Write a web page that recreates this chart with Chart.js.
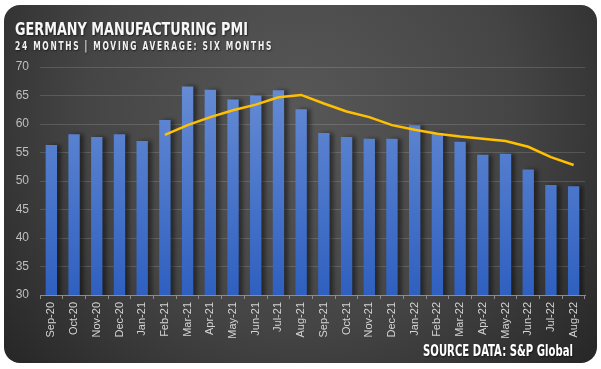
<!DOCTYPE html>
<html><head><meta charset="utf-8">
<script src="https://cdn.jsdelivr.net/npm/chart.js@4/dist/chart.umd.min.js"></script>
<style>
html,body{margin:0;padding:0;background:#fff;}
#wrap{position:relative;width:601px;height:369px;overflow:hidden}
canvas{position:absolute;left:0;top:0}
.t{position:absolute;white-space:nowrap;color:#f2f2f2;font-family:"Liberation Sans Narrow","DejaVu Sans Condensed","Liberation Sans",sans-serif;font-weight:bold;transform-origin:0 0;line-height:1;text-shadow:1px 1px 2px rgba(0,0,0,.6)}
#title{left:15px;top:20px;font-size:18px;color:#f7f7f7}
#sub{left:15px;top:39.5px;font-size:12.5px;letter-spacing:2.5px}
#src{top:344px;font-size:15px;color:#fff}
</style></head>
<body><div id="wrap"><canvas id="c" width="601" height="369"></canvas>
<div class="t" id="title">GERMANY MANUFACTURING PMI</div>
<div class="t" id="sub">24 MONTHS | MOVING AVERAGE: SIX MONTHS</div>
<div class="t" id="src">SOURCE DATA: S&amp;P Global</div>
</div>
<script>
const months = ['Sep-20','Oct-20','Nov-20','Dec-20','Jan-21','Feb-21','Mar-21','Apr-21','May-21','Jun-21','Jul-21','Aug-21','Sep-21','Oct-21','Nov-21','Dec-21','Jan-22','Feb-22','Mar-22','Apr-22','May-22','Jun-22','Jul-22','Aug-22'];
const pmi = [56.3,58.2,57.7,58.2,57.0,60.7,66.6,66.0,64.3,65.0,65.9,62.6,58.4,57.7,57.4,57.4,59.8,58.4,56.9,54.6,54.8,52.0,49.3,49.1];
const movingAvg = [null,null,null,null,null,58.1,59.8,61.2,62.4,63.4,64.7,65.1,63.6,62.2,61.2,59.8,59.0,58.3,57.8,57.4,57.0,56.0,54.2,52.8];
const yMin = 30, yMax = 70, yStep = 5;

function fit(id, target, rightEdge){
  const el = document.getElementById(id);
  const w = el.getBoundingClientRect().width;
  el.style.transform = 'scaleX(' + (target / w) + ')';
  if (rightEdge !== undefined) el.style.left = (rightEdge - target) + 'px';
}
fit('title', 233); fit('sub', 258); fit('src', 150, 573);

const bgPlugin = {
  id: 'bg',
  beforeDraw(chart){
    const ctx = chart.ctx;
    ctx.save();
    ctx.fillStyle = '#fff';
    ctx.fillRect(0,0,chart.width,chart.height);
    const g = ctx.createRadialGradient(300,110,0,300,110,390);
    g.addColorStop(0,'#575757');
    g.addColorStop(0.55,'#454545');
    g.addColorStop(1,'#262626');
    ctx.fillStyle = g;
    ctx.beginPath();
    ctx.roundRect(4,5,593,358,16);
    ctx.fill();
    ctx.restore();
  }
};
const shadowPlugin = {
  id: 'barShadow',
  beforeDatasetDraw(chart, args){
    if (args.meta.type === 'bar'){
      const ctx = chart.ctx;
      ctx.save();
      ctx.shadowColor = 'rgba(0,0,0,0.45)';
      ctx.shadowOffsetX = 4;
      ctx.shadowOffsetY = 0;
      ctx.shadowBlur = 4;
    }
  },
  afterDatasetDraw(chart, args){
    if (args.meta.type === 'bar') chart.ctx.restore();
  }
};

new Chart(document.getElementById('c'), {
  data: {
    labels: months,
    datasets: [
      { type:'line', label:'6-month moving average', data: movingAvg, borderColor:'#FFC000', borderWidth:2.5,
        pointRadius:0, tension:0, order:0, spanGaps:false },
      { type:'bar', label:'PMI', data: pmi, order:1, barPercentage:0.5, categoryPercentage:1,
        backgroundColor(c){
          const a = c.chart.chartArea;
          if (!a) return '#4a78d0';
          const g = c.chart.ctx.createLinearGradient(0,a.top,0,a.bottom);
          g.addColorStop(0,'#6a8fd6');
          g.addColorStop(1,'#2f60c0');
          return g;
        } }
    ]
  },
  options: {
    responsive:false, animation:false, devicePixelRatio:1,
    layout:{ padding:{ left:10, right:16, top:67, bottom:0 } },
    plugins:{ legend:{display:false}, tooltip:{enabled:false}, title:{display:false} },
    scales:{
      x:{
        grid:{ display:true, drawOnChartArea:false, drawTicks:true, tickLength:4, color:'#8c8c8c', offset:true },
        border:{ display:true, color:'#8c8c8c', width:1 },
        ticks:{ maxRotation:90, minRotation:90, autoSkip:false, color:'#d4d4d4', padding:3,
          font:{ family:'"Liberation Sans", Arial, sans-serif', size:11 } },
        afterFit(s){ s.height = 74; }
      },
      y:{
        min:yMin, max:yMax,
        grid:{ color:'rgba(255,255,255,0.14)', drawTicks:false, lineWidth:1 },
        border:{ display:false },
        ticks:{ stepSize:yStep, color:'#bfbfbf', padding:11,
          font:{ family:'"Liberation Sans", Arial, sans-serif', size:12 } },
        afterFit(s){ s.width = 30; }
      }
    }
  },
  plugins:[bgPlugin, shadowPlugin]
});
</script>
</body></html>
